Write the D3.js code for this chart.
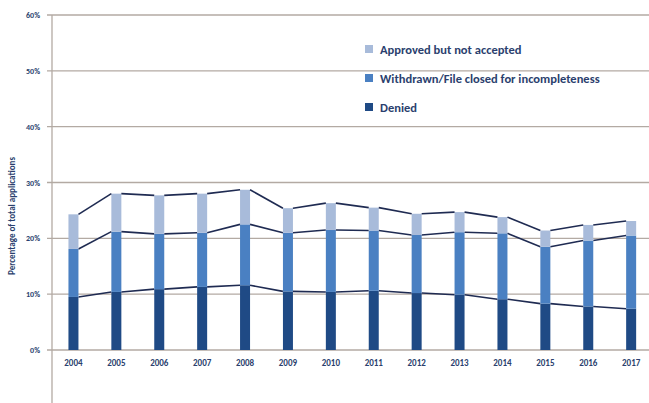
<!DOCTYPE html>
<html><head><meta charset="utf-8">
<script src="https://cdn.jsdelivr.net/npm/d3@7"></script>
<style>body{margin:0;background:#fff}svg{display:block}</style>
</head><body>
<script>
const years = ["2004","2005","2006","2007","2008","2009","2010","2011","2012","2013","2014","2015","2016","2017"];
const denied =    [9.5,10.4,10.9,11.3,11.6,10.5,10.4,10.6,10.2,9.9,9.1,8.3,7.8,7.4];
const withdrawn = [8.6,10.8,9.9,9.7,10.9,10.5,11.1,10.8,10.4,11.2,11.8,10.2,11.8,13.1];
const approved =  [6.2,6.8,6.9,7.0,6.2,4.4,4.8,4.1,3.8,3.6,2.9,2.9,2.8,2.6];
const yTicks = [-0.1,0,0.1,0.2,0.3,0.4,0.5,0.6];
const seriesNames = ["Denied","Withdrawn/File closed for incompleteness","Approved but not accepted"];
const colors = ["#1f4a85","#4a80c2","#a8bbda"];

const W=649,H=403;
const svg=d3.select("body").append("svg").attr("width",W).attr("height",H);
const y=d3.scaleLinear().domain([0,0.6]).range([350,15]);
const x=d3.scaleBand().domain(years).range([52,652.6]);
const bw=10;
const font="Calibri, Carlito, 'Open Sans', sans-serif";
const txt="#2b3f6e";

// gridlines
svg.append("g").selectAll("line").data(yTicks).join("line")
 .attr("x1",47).attr("x2",W).attr("y1",d=>y(d)).attr("y2",d=>y(d))
 .attr("stroke","#b3aaa3").attr("stroke-width",1.3);
svg.append("line").attr("x1",52).attr("x2",52).attr("y1",15).attr("y2",H).attr("stroke","#b3aaa3").attr("stroke-width",1.3);
svg.append("g").selectAll("text").data(yTicks).join("text")
 .attr("x",40).attr("y",d=>y(d)+3).attr("text-anchor","end")
 .attr("font-family",font).attr("font-size",8).attr("font-weight","bold").attr("fill",txt)
 .text(d=>Math.round(d*100)+"%");

// stack
const data=years.map((yr,i)=>({year:yr,d:denied[i]/100,w:withdrawn[i]/100,a:approved[i]/100}));
const stack=d3.stack().keys(["d","w","a"])(data);
stack.forEach((s,k)=>{
  svg.append("g").selectAll("rect").data(s).join("rect")
   .attr("x",d=>x(d.data.year)+x.bandwidth()/2-bw/2).attr("width",bw)
   .attr("y",d=>y(d[1])).attr("height",d=>y(d[0])-y(d[1]))
   .attr("fill",colors[k]);
  // series lines
  const segs=s.slice(0,-1).map((d,i)=>[d,s[i+1]]);
  svg.append("g").selectAll("line").data(segs).join("line")
   .attr("x1",d=>x(d[0].data.year)+x.bandwidth()/2+bw/2).attr("y1",d=>y(d[0][1]))
   .attr("x2",d=>x(d[1].data.year)+x.bandwidth()/2-bw/2).attr("y2",d=>y(d[1][1]))
   .attr("stroke","#1f2b52").attr("stroke-width",1.6);
});

// x labels
svg.append("g").selectAll("text").data(years).join("text")
 .attr("x",d=>x(d)+x.bandwidth()/2).attr("y",366).attr("text-anchor","middle")
 .attr("font-family",font).attr("font-size",9).attr("font-weight","bold").attr("fill",txt).text(d=>d);

// y title
svg.append("text").attr("transform","translate(15,216) rotate(-90)").attr("text-anchor","middle")
 .attr("font-family",font).attr("font-size",9).attr("font-weight","bold").attr("fill",txt)
 .text("Percentage of total applications");

// legend
const leg=[2,1,0];
const ly=[50,79,108];
leg.forEach((k,i)=>{
  svg.append("rect").attr("x",365).attr("y",ly[i]-5).attr("width",8).attr("height",8).attr("fill",colors[k]);
  svg.append("text").attr("x",380).attr("y",ly[i]+4).attr("font-family",font).attr("font-size",12.5)
   .attr("font-weight","bold").attr("fill",txt).text(seriesNames[k]);
});
</script>
</body></html>
